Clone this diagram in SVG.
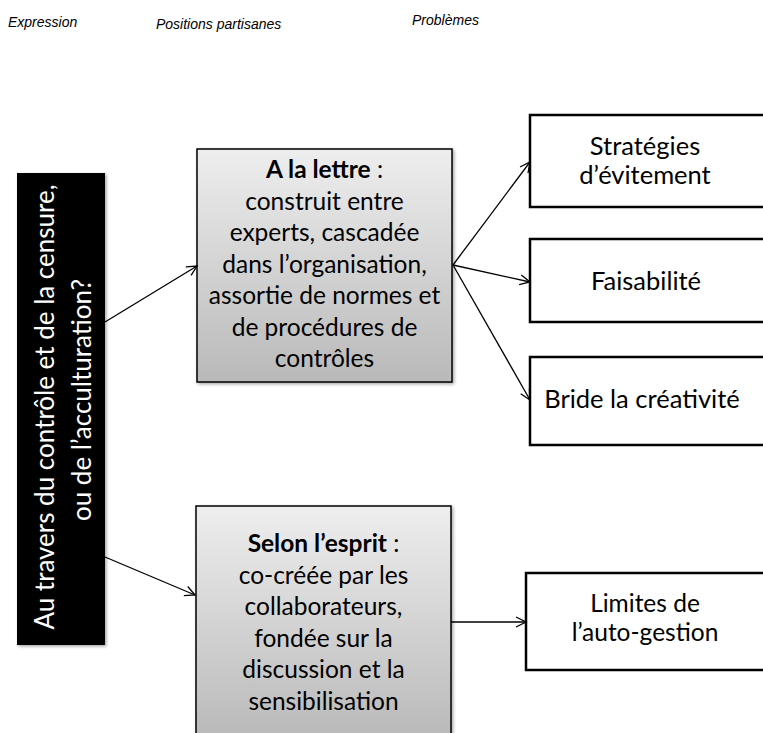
<svg xmlns="http://www.w3.org/2000/svg" width="763" height="733" viewBox="0 0 763 733">
<defs>
<linearGradient id="g" x1="0" y1="0" x2="0" y2="1">
<stop offset="0" stop-color="#eeeeee"/>
<stop offset="1" stop-color="#b9b9b9"/>
</linearGradient>
<filter id="sh" x="-10%" y="-10%" width="130%" height="130%">
<feDropShadow dx="1.5" dy="1.5" stdDeviation="1.5" flood-color="#000" flood-opacity="0.35"/>
</filter>
<marker id="arr" markerUnits="userSpaceOnUse" markerWidth="14" markerHeight="14" refX="11" refY="6" orient="auto" viewBox="0 0 14 12">
<path d="M1,1 L11,6 L1,11" fill="none" stroke="#000" stroke-width="1.3"/>
</marker>
</defs>
<style>
.hdr{font-family:"Liberation Sans",Arial,sans-serif;font-style:italic;font-size:14px;fill:#000}
.t{font-family:Lato,"Liberation Sans",sans-serif;font-size:24.5px;fill:#000;text-anchor:middle}
.r{font-size:25.5px}
.w{font-family:Lato,"Liberation Sans",sans-serif;font-size:26px;fill:#fff;text-anchor:middle}
.b{font-weight:bold}
.gray{fill:url(#g);stroke:#000;stroke-width:1.5}
.white{fill:#fff;stroke:#000;stroke-width:2.5}
.c{fill:none;stroke:#000;stroke-width:1.3}
</style>
<rect width="763" height="733" fill="#fff"/>
<g id="headers">
<text class="hdr" x="8" y="27">Expression</text>
<text class="hdr" x="156" y="29">Positions partisanes</text>
<text class="hdr" x="412" y="25">Problèmes</text>
</g>
<g id="expression">
<rect x="17" y="173" width="88" height="472" fill="#000" filter="url(#sh)"/>
<text class="w" transform="translate(54,407) rotate(-90)">Au travers du contrôle et de la censure,</text>
<text class="w" transform="translate(91,400) rotate(-90)">ou de l’acculturation?</text>
</g>
<g id="lettre">
<rect class="gray" x="197" y="149" width="255" height="233" filter="url(#sh)"/>
<text class="t" x="324.5" y="178"><tspan class="b">A la lettre</tspan> :</text>
<text class="t" x="324.5" y="210">construit entre</text>
<text class="t" x="324.5" y="241">experts, cascadée</text>
<text class="t" x="324.5" y="273">dans l’organisation,</text>
<text class="t" x="324.5" y="304">assortie de normes et</text>
<text class="t" x="324.5" y="336">de procédures de</text>
<text class="t" x="324.5" y="367">contrôles</text>
</g>
<g id="esprit">
<rect class="gray" x="196" y="506" width="255" height="233" filter="url(#sh)"/>
<text class="t" x="323.5" y="552"><tspan class="b">Selon l’esprit</tspan> :</text>
<text class="t" x="323.5" y="583.5">co-créée par les</text>
<text class="t" x="323.5" y="615">collaborateurs,</text>
<text class="t" x="323.5" y="646.5">fondée sur la</text>
<text class="t" x="323.5" y="678">discussion et la</text>
<text class="t" x="323.5" y="709.5">sensibilisation</text>
</g>
<g id="strategies">
<rect class="white" x="530" y="115" width="250" height="92"/>
<text class="t r" x="645" y="155">Stratégies</text>
<text class="t r" x="645" y="184">d’évitement</text>
</g>
<g id="faisabilite">
<rect class="white" x="530" y="239" width="250" height="83"/>
<text class="t r" x="646" y="290">Faisabilité</text>
</g>
<g id="bride">
<rect class="white" x="530" y="357" width="250" height="88"/>
<text class="t r" x="642" y="408">Bride la créativité</text>
</g>
<g id="limites">
<rect class="white" x="526" y="573" width="254" height="97"/>
<text class="t" x="645" y="612">Limites de</text>
<text class="t" x="645" y="641">l’auto-gestion</text>
</g>
<g id="connectors">
<path class="c" d="M105,322 L197,266" marker-end="url(#arr)"/>
<path class="c" d="M105,557 L195,595" marker-end="url(#arr)"/>
<path class="c" d="M453,265 L530,162" marker-end="url(#arr)"/>
<path class="c" d="M453,265 L530,282" marker-end="url(#arr)"/>
<path class="c" d="M453,265 L530,400" marker-end="url(#arr)"/>
<path class="c" d="M451,622 L526,622" marker-end="url(#arr)"/>
</g>
</svg>
